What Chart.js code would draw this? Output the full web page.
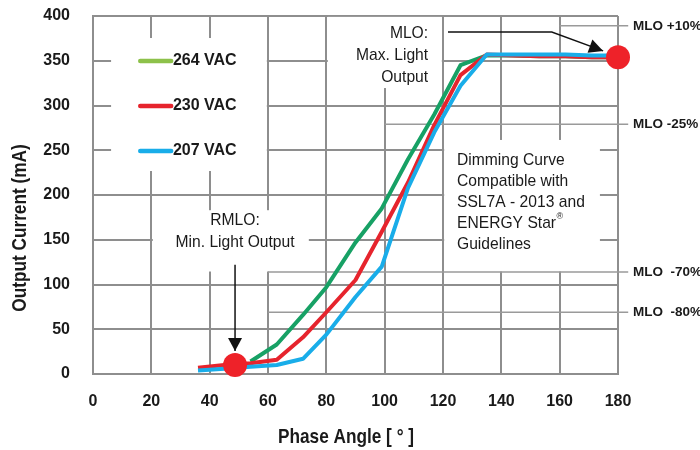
<!DOCTYPE html>
<html>
<head>
<meta charset="utf-8">
<script src="https://cdn.jsdelivr.net/npm/chart.js@4.4.1/dist/chart.umd.min.js"></script>
<style>
  html, body { margin: 0; padding: 0; background: #fff; }
  #grafico { display: block; }
</style>
</head>
<body>
<canvas id="grafico" width="700" height="450"></canvas>
<script>
/* curva de dimerização: corrente de saída x ângulo de fase */

const CHART_ID = "grafico";

/* ===== dados ===== */
const faseGraus = [36, 45, 54, 63, 72, 80, 90, 99, 108, 117, 126, 135, 144, 153, 162, 171, 180];
const serieLabels = ["264 VAC", "230 VAC", "207 VAC"];
const corrente264 = [null, null, 14, 33, 66, 97, 147, 185, 240, 290, 345, 356, 356, 355, 355, 354, 354];
const corrente230 = [7, 10, 12, 16, 41, 69, 105, 159, 214, 278, 334, 357, 356, 355, 355, 354, 354];
const corrente207 = [4, 6, 8, 10, 17, 44, 86, 120, 208, 270, 322, 357, 357, 357, 357, 356, 356];

const pontosX = [48.7, 180];   // RMLO e MLO
const pontosY = [10, 354];

const niveisMLO = [389, 279, 114, 69];
const niveisInicio = [160, 100, 60, 60];
const niveisTexto = ["MLO +10%", "MLO -25%", "MLO  -70%", "MLO  -80%"];

/* ===== cores ===== */
const CORES = {
  grade: "#8e8e8e",
  ref: "#9a9a9a",
  texto: "#1a1a1a",
  linhas: ["#17a165", "#e6242d", "#19ade9"],
  legenda: ["#8dc14a", "#e6242d", "#19ade9"],
  ponto: "#ee2229"
};

const FONTE = '"Liberation Sans", Arial, sans-serif';

function serie(valores) {
  return faseGraus.map((x, i) => ({ x, y: valores[i] }));
}

function texto(ctx, txt, x, y, font, escala, align, rot) {
  ctx.save();
  ctx.translate(x, y);
  if (rot) ctx.rotate(rot);
  ctx.scale(escala, 1);
  ctx.font = font;
  ctx.textAlign = align;
  ctx.textBaseline = "middle";
  ctx.fillStyle = CORES.texto;
  ctx.fillText(txt, 0, 0);
  ctx.restore();
}

function seta(ctx, pts, tam, meia) {
  ctx.save();
  ctx.strokeStyle = "#111";
  ctx.fillStyle = "#111";
  ctx.lineWidth = 1.5;
  ctx.beginPath();
  ctx.moveTo(pts[0][0], pts[0][1]);
  for (let i = 1; i < pts.length; i++) ctx.lineTo(pts[i][0], pts[i][1]);
  ctx.stroke();
  const [ax, ay] = pts[pts.length - 2];
  const [bx, by] = pts[pts.length - 1];
  const d = Math.hypot(bx - ax, by - ay);
  const ux = (bx - ax) / d, uy = (by - ay) / d;
  ctx.beginPath();
  ctx.moveTo(bx, by);
  ctx.lineTo(bx - ux * tam - uy * meia, by - uy * tam + ux * meia);
  ctx.lineTo(bx - ux * tam + uy * meia, by - uy * tam - ux * meia);
  ctx.closePath();
  ctx.fill();
  ctx.restore();
}

/* caixas brancas em unidades dos eixos */
const caixas = [
  { x0: 6.2, x1: 59.6, y0: 226.8, y1: 375.4 },   // legenda
  { x0: 80.5, x1: 119.6, y0: 319.5, y1: 399 },   // MLO
  { x0: 120.4, x1: 173.8, y0: 114.5, y1: 261.5 },// Dimming curve
  { x0: 20.5, x1: 74, y0: 114.5, y1: 183 }       // RMLO
];

const anotacoes = {
  id: "anotacoes",
  beforeDatasetsDraw(chart) {
    const { ctx, scales: { x, y } } = chart;
    ctx.save();
    ctx.fillStyle = "#fff";
    caixas.forEach(c => {
      const l = x.getPixelForValue(c.x0), r = x.getPixelForValue(c.x1);
      const t = y.getPixelForValue(c.y1), b = y.getPixelForValue(c.y0);
      ctx.fillRect(l, t, r - l, b - t);
    });
    ctx.strokeStyle = CORES.ref;
    ctx.lineWidth = 1.5;
    niveisMLO.forEach((v, i) => {
      const yy = y.getPixelForValue(v);
      ctx.beginPath();
      ctx.moveTo(x.getPixelForValue(niveisInicio[i]), yy);
      ctx.lineTo(x.getPixelForValue(183.5), yy);
      ctx.stroke();
    });
    ctx.restore();
  },
  afterDatasetsDraw(chart) {
    const { ctx, scales: { x, y } } = chart;
    const f = '17px ' + FONTE;
    const px = v => x.getPixelForValue(v);
    const py = v => y.getPixelForValue(v);

    // legenda
    serieLabels.forEach((lab, i) => {
      const yy = py([349.7, 299.4, 249.2][i]);
      ctx.save();
      ctx.strokeStyle = CORES.legenda[i];
      ctx.lineWidth = 4.5;
      ctx.lineCap = "round";
      ctx.beginPath();
      ctx.moveTo(px(16.2), yy);
      ctx.lineTo(px(26.8), yy);
      ctx.stroke();
      ctx.restore();
      texto(ctx, lab, px(27.4), yy, 'bold 16px ' + FONTE, 1, "left");
    });

    // MLO
    ["MLO:", "Max. Light", "Output"].forEach((t, i) =>
      texto(ctx, t, px(114.9), py([381, 356.4, 331.8][i]), f, 0.92, "right"));

    // RMLO
    ["RMLO:", "Min. Light Output"].forEach((t, i) =>
      texto(ctx, t, px(48.7), py([172, 147.5][i]), f, 0.92, "center"));

    // Dimming curve
    const linhas = ["Dimming Curve", "Compatible with", "SSL7A - 2013 and", "ENERGY Star", "Guidelines"];
    const ys = [239, 215.6, 192, 168.7, 145.3];
    linhas.forEach((t, i) => {
      texto(ctx, t, px(124.8), py(ys[i]), f, 0.92, "left");
      if (i === 3) {
        ctx.save();
        ctx.font = f;
        const w = ctx.measureText(t).width * 0.92;
        ctx.restore();
        texto(ctx, "®", px(124.8) + w + 0.5, py(ys[i]) - 6, '9px ' + FONTE, 1, "left");
      }
    });

    // setas
    seta(ctx, [[px(121.7), py(382)], [px(157.3), py(382)], [px(174.9), py(361)]], 14, 7);
    seta(ctx, [[px(48.7), py(122)], [px(48.7), py(25.7)]], 13, 7);

    // rótulos dos níveis MLO
    niveisTexto.forEach((t, i) =>
      texto(ctx, t, 633, py(niveisMLO[i]), 'bold 13.5px ' + FONTE, 1, "left"));

    // títulos dos eixos
    texto(ctx, "Phase Angle [ ° ]", 346, 437, 'bold 21px ' + FONTE, 0.82, "center");
    texto(ctx, "Output Current (mA)", 20.5, 228, 'bold 21px ' + FONTE, 0.82, "center", -Math.PI / 2);
  }
};

const ctx = document.getElementById(CHART_ID).getContext("2d");

new Chart(ctx, {
  type: "line",
  data: {
    datasets: [
      {
        type: "scatter",
        data: pontosX.map((x, i) => ({ x, y: pontosY[i] })),
        backgroundColor: CORES.ponto,
        pointBackgroundColor: CORES.ponto,
        pointRadius: 12,
        borderWidth: 0,
        clip: false,
        order: 0
      },
      ...[corrente264, corrente230, corrente207].map((v, i) => ({
        label: serieLabels[i],
        data: serie(v),
        borderColor: CORES.linhas[i],
        borderWidth: 4,
        pointRadius: 0,
        tension: 0,
        spanGaps: false,
        borderJoinStyle: "round",
        order: 3 - i
      }))
    ]
  },
  options: {
    responsive: false,
    animation: false,
    events: [],
    layout: { padding: { top: 16, right: 82, left: 0, bottom: 0 } },
    plugins: { legend: { display: false }, tooltip: { enabled: false } },
    scales: {
      x: {
        type: "linear",
        min: 0,
        max: 180,
        afterFit: s => { s.height = 76; },
        ticks: {
          stepSize: 20,
          padding: 18,
          color: CORES.texto,
          font: { family: FONTE, size: 16, weight: "bold" }
        },
        grid: { color: CORES.grade, lineWidth: 2, drawTicks: false },
        border: { color: CORES.grade, width: 2 }
      },
      y: {
        min: 0,
        max: 400,
        afterFit: s => { s.width = 93; s.paddingTop = 0; s.paddingBottom = 0; },
        ticks: {
          stepSize: 50,
          padding: 23,
          color: CORES.texto,
          font: { family: FONTE, size: 16, weight: "bold" }
        },
        grid: { color: CORES.grade, lineWidth: 2, drawTicks: false },
        border: { color: CORES.grade, width: 2 }
      }
    }
  },
  plugins: [anotacoes]
});
</script>
</body>
</html>
